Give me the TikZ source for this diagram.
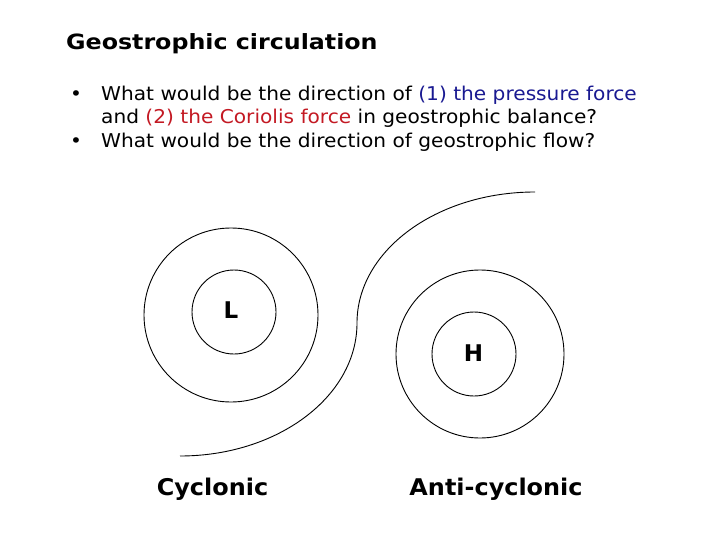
\documentclass[tikz,border=0pt]{standalone}
\usepackage{fontspec}
\setmainfont{DejaVu Sans}
\newfontfamily\titlefont[FakeStretch=1.13]{DejaVu Sans}
\newfontfamily\bodyfont[FakeStretch=1.06]{DejaVu Sans}
\newfontfamily\capfont[FakeStretch=1.04]{DejaVu Sans}
\definecolor{qblue}{RGB}{25,25,145}
\definecolor{qred}{RGB}{195,25,35}
\tikzset{
  lbl/.style={inner sep=0pt, font=\bodyfont\fontsize{19}{19}\selectfont},
  centre/.style={inner sep=0pt, font=\fontsize{23}{23}\selectfont\bfseries},
  caption/.style={anchor=base, inner sep=0pt, font=\capfont\fontsize{23}{23}\selectfont\bfseries},
  isobar/.style={line width=0.9pt}
}
\begin{document}
\begin{tikzpicture}[x=1pt,y=-1pt]
\useasboundingbox (0,0) rectangle (720,540);

\node[anchor=base west, inner sep=0pt, font=\titlefont\fontsize{21}{21}\selectfont\bfseries] (title) at (66,50) {Geostrophic circulation};

\node[lbl, anchor=base] (dot1) at (76,101) {•};
\node[lbl, anchor=base west] (q1) at (101,101) {What would be the direction of \textcolor{qblue}{(1) the pressure force}};
\node[lbl, anchor=base west] (q1b) at (101,124) {and \textcolor{qred}{(2) the Coriolis force} in geostrophic balance?};
\node[lbl, anchor=base] (dot2) at (76,148) {•};
\node[lbl, anchor=base west] (q2) at (101,148) {What would be the direction of geostrophic flow?};

% low
\draw[isobar] (231,315) circle (87);
\draw[isobar] (234,312) circle (42);
\node[centre] (low) at (231,310) {L};

% high
\draw[isobar] (480,354) circle (84);
\draw[isobar] (474,354) circle (42);
\node[centre] (high) at (473.5,353) {H};

% the S shaped isobar between them
\draw[isobar] (535,192) arc[start angle=-90, end angle=-180, x radius=178, y radius=131]
  arc[start angle=0, end angle=90, x radius=177, y radius=133];

\node[caption] (cyc) at (212.5,495) {Cyclonic};
\node[caption] (anti) at (496,495) {Anti-cyclonic};
\end{tikzpicture}
\end{document}
